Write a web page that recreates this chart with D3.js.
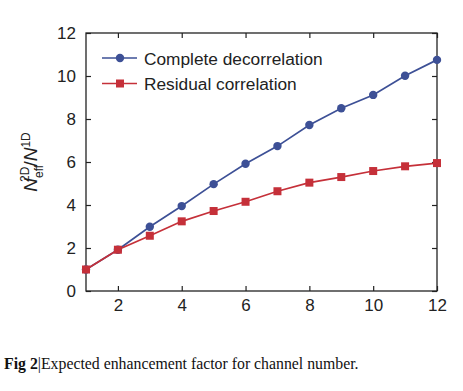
<!DOCTYPE html>
<html>
<head>
<meta charset="utf-8">
<script src="https://cdn.jsdelivr.net/npm/d3@7"></script>
<style>
  body { margin: 0; background: #fff; }
  svg { display: block; }
</style>
</head>
<body>
<svg id="chart" width="463" height="391"></svg>
<script>
// Channel numbers and the two series
const channels = [1, 2, 3, 4, 5, 6, 7, 8, 9, 10, 11, 12];
const complete_vals = [1.0, 1.92, 2.99, 3.95, 4.97, 5.92, 6.74, 7.72, 8.5, 9.12, 10.01, 10.75];
const residual_vals = [1.0, 1.92, 2.57, 3.24, 3.72, 4.15, 4.64, 5.04, 5.3, 5.58, 5.8, 5.95];
const series_names = ['Complete decorrelation', 'Residual correlation'];
const x_ticks = [2, 4, 6, 8, 10, 12];
const y_ticks = [0, 2, 4, 6, 8, 10, 12];

const svg = d3.select('#chart');
const blue = '#3d5096';
const red = '#c53039';

// Plot area in pixels
const plot_left = 86, plot_right = 437, plot_top = 33, plot_bottom = 291;

const xScale = d3.scaleLinear().domain([1, 12]).range([plot_left, plot_right]);
const yScale = d3.scaleLinear().domain([0, 12]).range([plot_bottom, plot_top]);

// frame
svg.append('rect')
    .attr('x', plot_left).attr('y', plot_top)
    .attr('width', plot_right - plot_left).attr('height', plot_bottom - plot_top)
    .attr('fill', 'none').attr('stroke', '#222').attr('stroke-width', 1.3);

const font = 'Liberation Sans, Arial, sans-serif';

// axes with inward ticks
const xAxis = svg.append('g').attr('transform', `translate(0,${plot_bottom})`)
    .call(d3.axisBottom(xScale).tickValues(x_ticks).tickSizeInner(-5).tickSizeOuter(0).tickPadding(8));
const xTop = svg.append('g').attr('transform', `translate(0,${plot_top})`)
    .call(d3.axisTop(xScale).tickValues(x_ticks).tickSizeInner(-5).tickSizeOuter(0).tickFormat(''));
const yAxis = svg.append('g').attr('transform', `translate(${plot_left},0)`)
    .call(d3.axisLeft(yScale).tickValues(y_ticks).tickSizeInner(-5).tickSizeOuter(0).tickPadding(10));
const yRight = svg.append('g').attr('transform', `translate(${plot_right},0)`)
    .call(d3.axisRight(yScale).tickValues(y_ticks).tickSizeInner(-5).tickSizeOuter(0).tickFormat(''));

[xAxis, xTop, yAxis, yRight].forEach(g => {
    g.select('.domain').remove();
    g.selectAll('line').attr('stroke', '#222').attr('stroke-width', 1.2);
    g.selectAll('text').attr('font-family', font).attr('font-size', 17).attr('fill', '#222');
});

// lines
const line = d3.line().x((d, i) => xScale(channels[i])).y(d => yScale(d));

svg.append('path').datum(complete_vals)
    .attr('d', line).attr('fill', 'none').attr('stroke', blue).attr('stroke-width', 1.7);
svg.append('path').datum(residual_vals)
    .attr('d', line).attr('fill', 'none').attr('stroke', red).attr('stroke-width', 1.7);

svg.selectAll('.dot').data(complete_vals).enter().append('circle')
    .attr('cx', (d, i) => xScale(channels[i])).attr('cy', d => yScale(d))
    .attr('r', 4.2).attr('fill', blue);

svg.selectAll('.sq').data(residual_vals).enter().append('rect')
    .attr('x', (d, i) => xScale(channels[i]) - 4).attr('y', d => yScale(d) - 4)
    .attr('width', 8).attr('height', 8).attr('fill', red);

// legend
const legend = svg.append('g');
[[blue, 'circle'], [red, 'square']].forEach(([col, shape], i) => {
    const ly = 58 + i * 25.5;
    legend.append('line').attr('x1', 102).attr('x2', 137).attr('y1', ly).attr('y2', ly)
        .attr('stroke', col).attr('stroke-width', 1.7);
    if (shape === 'circle') {
        legend.append('circle').attr('cx', 120).attr('cy', ly).attr('r', 4.2).attr('fill', col);
    } else {
        legend.append('rect').attr('x', 116).attr('y', ly - 4).attr('width', 8).attr('height', 8).attr('fill', col);
    }
    legend.append('text').attr('x', 144).attr('y', ly + 6.5)
        .attr('font-family', font).attr('font-size', 17.3).attr('fill', '#222')
        .text(series_names[i]);
});

// y label
const ylab = svg.append('text')
    .attr('transform', 'translate(37,162) rotate(-90)')
    .attr('text-anchor', 'middle')
    .attr('font-family', font).attr('font-size', 19).attr('fill', '#222');
ylab.append('tspan').attr('font-style', 'italic').text('N');
ylab.append('tspan').attr('font-size', 12).attr('dy', 6).text('eff');
ylab.append('tspan').attr('font-size', 12).attr('dx', -17).attr('dy', -14).text('2D');
ylab.append('tspan').attr('dy', 8).text('/');
ylab.append('tspan').attr('font-style', 'italic').text('N');
ylab.append('tspan').attr('font-size', 12).attr('dy', -7).text('1D');

// caption
const cap = svg.append('text').attr('x', 4).attr('y', 369)
    .attr('font-family', 'Liberation Serif, Times New Roman, serif').attr('font-size', 15.8).attr('fill', '#111');
cap.append('tspan').attr('font-weight', 'bold').text('Fig 2');
cap.append('tspan').text('|Expected enhancement factor for channel number.');
</script>
</body>
</html>
